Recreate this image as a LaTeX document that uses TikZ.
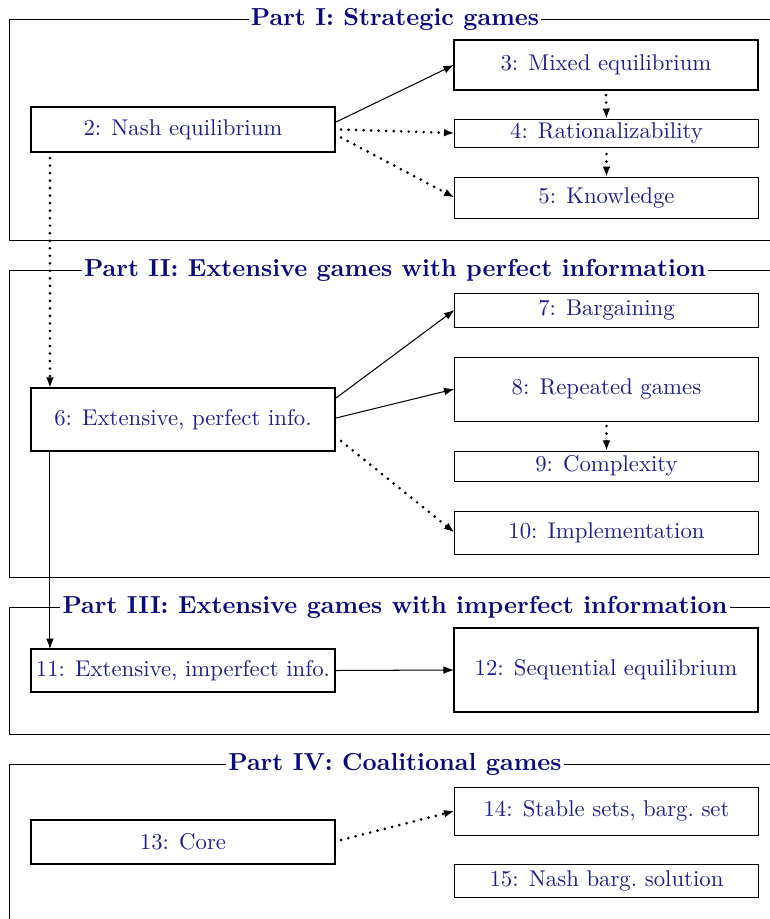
\documentclass[tikz,border=0pt]{standalone}
\usetikzlibrary{arrows.meta}
\definecolor{txtblue}{RGB}{30,30,140}
\definecolor{ttlblue}{RGB}{10,10,125}
\begin{document}
\begin{tikzpicture}[x=0.439pt,y=-0.439pt,
  base/.style={draw=black,rectangle,inner sep=0pt,outer sep=0pt,minimum width=133.5pt,text=txtblue,font=\fontsize{10}{12}\selectfont},
  thickbox/.style={base,line width=0.95pt},
  thinbox/.style={base,line width=0.4pt},
  frame/.style={draw=black,line width=0.4pt},
  ttl/.style={fill=white,inner sep=1pt,text=ttlblue,font=\fontsize{10.8}{13}\selectfont\bfseries},
  arr/.style={line width=0.45pt,-{Latex[length=4.6pt,width=3.4pt]}},
  darr/.style={line width=1.3pt,line cap=round,dash pattern=on 0pt off 3.3pt,-{Latex[length=4.6pt,width=3.4pt]}}
]
\useasboundingbox (0,0) rectangle (770,919);
\clip (0,0) rectangle (770,919);
% frames
\draw[frame] (9,19) rectangle (781,240);
\node[ttl] (t1) at (395,19) {Part I: Strategic games};
\draw[frame] (9,270) rectangle (781,577);
\node[ttl] (t2) at (395,270) {Part II: Extensive games with perfect information};
\draw[frame] (9,607) rectangle (781,734);
\node[ttl] (t3) at (395,607) {Part III: Extensive games with imperfect information};
\draw[frame] (9,764) rectangle (781,940);
\node[ttl] (t4) at (395,764) {Part IV: Coalitional games};
% nodes
\node[thickbox,minimum height=19.8pt] (n2) at (183,129.5) {2: Nash equilibrium};
\node[thickbox,minimum height=22pt] (n3) at (606,65) {3: Mixed equilibrium};
\node[thinbox,minimum height=12.3pt] (n4) at (606.5,133) {4: Rationalizability};
\node[thinbox,minimum height=18pt] (n5) at (606.5,197.5) {5: Knowledge};
\node[thickbox,minimum height=27.7pt] (n6) at (183,419.5) {6: Extensive, perfect info.};
\node[thinbox,minimum height=14.9pt] (n7) at (606.5,310) {7: Bargaining};
\node[thinbox,minimum height=28.1pt] (n8) at (606.5,389) {8: Repeated games};
\node[thinbox,minimum height=13.2pt] (n9) at (606.5,466) {9: Complexity};
\node[thinbox,minimum height=18.9pt] (n10) at (606.5,532.5) {10: Implementation};
\node[thickbox,minimum height=18.9pt] (n11) at (183,670.5) {11: Extensive, imperfect info.};
\node[thickbox,minimum height=36.9pt] (n12) at (606,670) {12: Sequential equilibrium};
\node[thickbox,minimum height=19.3pt] (n13) at (183,842) {13: Core};
\node[thinbox,minimum height=21.1pt] (n14) at (606.5,811) {14: Stable sets, barg.\ set};
\node[thinbox,minimum height=14.5pt] (n15) at (606.5,880.5) {15: Nash barg.\ solution};
% connectors
\draw[arr] ([shift={(1,-7.5)}]n2.east) -- (n3.west);
\draw[darr] ([shift={(6,0)}]n2.east) -- (n4.west);
\draw[darr] ([shift={(6,8)}]n2.east) -- (n5.west);
\draw[darr] ([shift={(0,5)}]n3.south) -- (n4.north);
\draw[darr] ([shift={(0,7)}]n4.south) -- (n5.north);
\draw[darr] ([shift={(19,6)}]n2.south west) -- ([shift={(19,0)}]n6.north west);
\draw[arr] ([shift={(1,-21.5)}]n6.east) -- (n7.west);
\draw[arr] ([shift={(1,-1.5)}]n6.east) -- (n8.west);
\draw[darr] ([shift={(6,21.5)}]n6.east) -- (n10.west);
\draw[darr] ([shift={(0,5)}]n8.south) -- (n9.north);
\draw[arr] ([shift={(19,0)}]n6.south west) -- ([shift={(19,0)}]n11.north west);
\draw[arr] (n11.east) -- (n12.west);
\draw[darr] ([shift={(6,-2)}]n13.east) -- (n14.west);
\end{tikzpicture}
\end{document}
